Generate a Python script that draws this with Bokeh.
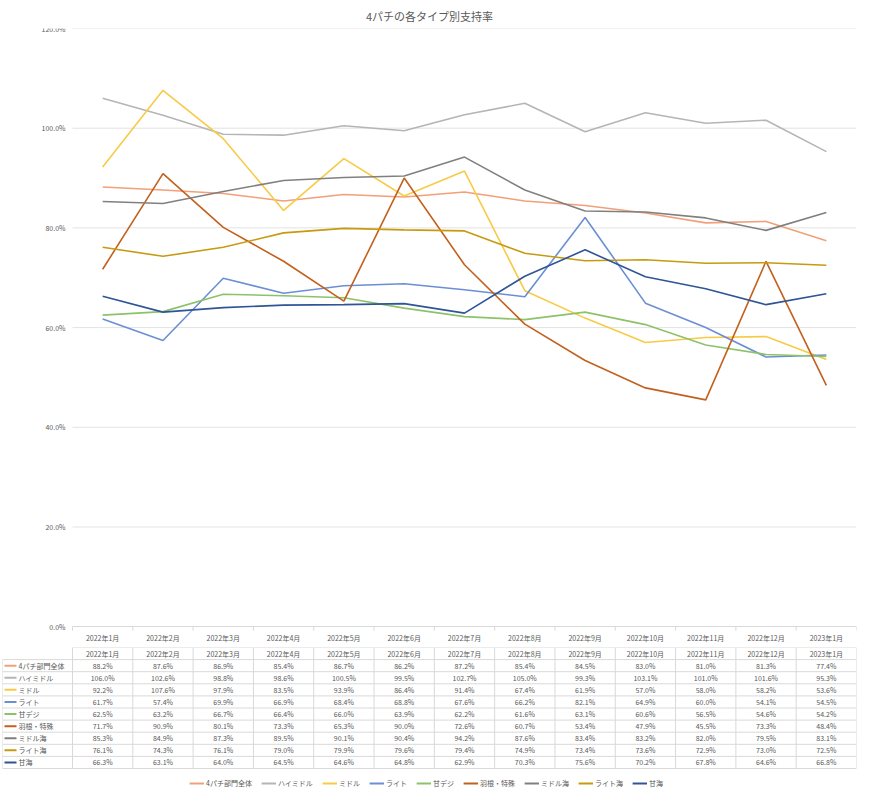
from bokeh.plotting import figure
from bokeh.models import (Range1d, FixedTicker, PrintfTickFormatter, LinearAxis,
                          ColumnDataSource, Legend, LegendItem)
from bokeh.layouts import column
from bokeh.core.properties import value
from bokeh.embed import file_html
from bokeh.resources import INLINE

months = ["2022年1月", "2022年2月", "2022年3月", "2022年4月", "2022年5月", "2022年6月",
          "2022年7月", "2022年8月", "2022年9月", "2022年10月", "2022年11月", "2022年12月",
          "2023年1月"]

names = ["4パチ部門全体", "ハイミドル", "ミドル", "ライト", "甘デジ", "羽根・特殊",
         "ミドル海", "ライト海", "甘海"]

all4 = [88.2, 87.6, 86.9, 85.4, 86.7, 86.2, 87.2, 85.4, 84.5, 83.0, 81.0, 81.3, 77.4]
highmid = [106.0, 102.6, 98.8, 98.6, 100.5, 99.5, 102.7, 105.0, 99.3, 103.1, 101.0, 101.6, 95.3]
middle = [92.2, 107.6, 97.9, 83.5, 93.9, 86.4, 91.4, 67.4, 61.9, 57.0, 58.0, 58.2, 53.6]
light = [61.7, 57.4, 69.9, 66.9, 68.4, 68.8, 67.6, 66.2, 82.1, 64.9, 60.0, 54.1, 54.5]
amadeji = [62.5, 63.2, 66.7, 66.4, 66.0, 63.9, 62.2, 61.6, 63.1, 60.6, 56.5, 54.6, 54.2]
hane = [71.7, 90.9, 80.1, 73.3, 65.3, 90.0, 72.6, 60.7, 53.4, 47.9, 45.5, 73.3, 48.4]
mid_umi = [85.3, 84.9, 87.3, 89.5, 90.1, 90.4, 94.2, 87.6, 83.4, 83.2, 82.0, 79.5, 83.1]
light_umi = [76.1, 74.3, 76.1, 79.0, 79.9, 79.6, 79.4, 74.9, 73.4, 73.6, 72.9, 73.0, 72.5]
ama_umi = [66.3, 63.1, 64.0, 64.5, 64.6, 64.8, 62.9, 70.3, 75.6, 70.2, 67.8, 64.6, 66.8]

series = [all4, highmid, middle, light, amadeji, hane, mid_umi, light_umi, ama_umi]
colors = ["#F2A079", "#B5B5B5", "#F7CB45", "#6B8FD4", "#8DC26A", "#C2601C",
          "#808080", "#C79A10", "#2F5597"]

yticks = [0, 20, 40, 60, 80, 100, 120]

FONT = "Noto Sans CJK JP"
TXT = "#595959"
GRID = "#E3E3E3"
BORDER = "#D9D9D9"

W = 858
TOP_H = 647
TAB_H = 141
BL = 2            # left border of both frames
BR = 2            # right border of both frames
LABEL_PX = 70     # width of the series-name column of the table
TOP_PAD = 23      # space for the title
BELOW_PX = 21     # space under the 0% line for the month labels

n = len(months)
idx = list(range(n))
unit_px = (W - BL - BR - LABEL_PX) / n
x_start = -0.5 - LABEL_PX / unit_px
x_end = n - 0.5

ymax = yticks[-1]
px_per_y = (TOP_H - TOP_PAD - BELOW_PX) / ymax
y_start = -BELOW_PX / px_per_y

# ---------------- chart ----------------
p = figure(width=W, height=TOP_H, x_range=Range1d(x_start, x_end), y_range=Range1d(y_start, ymax),
           output_backend="svg", toolbar_location=None, x_axis_type=None, y_axis_type=None,
           min_border_left=BL, min_border_right=BR, min_border_top=TOP_PAD, min_border_bottom=0)
p.title.text = "4パチの各タイプ別支持率"
p.title.align = "center"
p.title.text_font = FONT
p.title.text_font_size = "11px"
p.title.text_font_style = "normal"
p.title.text_color = TXT
p.title.standoff = 10
p.outline_line_color = None
p.grid.visible = False

# horizontal gridlines over the plot columns only
gy = yticks[1:]
p.segment(x0=[-0.5] * len(gy), y0=gy, x1=[x_end] * len(gy), y1=gy, line_color=GRID, line_width=1)
# small category-boundary ticks under the axis line
bx = [k - 0.5 for k in range(n + 1)]
p.segment(x0=bx, y0=[0] * len(bx), x1=bx, y1=[-4 / px_per_y] * len(bx), line_color=BORDER, line_width=1)

src = ColumnDataSource({"x": idx, **{f"s{i}": s for i, s in enumerate(series)}})
for i, c in enumerate(colors):
    p.line("x", f"s{i}", source=src, color=c, line_width=1.6)

yax = LinearAxis(ticker=FixedTicker(ticks=yticks), formatter=PrintfTickFormatter(format="%.1f%%"),
                 fixed_location=-0.5, axis_line_color=None, major_tick_line_color=None,
                 major_tick_in=0, major_tick_out=0,
                 minor_tick_line_color=None, major_label_text_font=FONT,
                 major_label_text_font_size="7px", major_label_text_color=TXT,
                 major_label_standoff=7)
p.add_layout(yax, "left")

xax = LinearAxis(ticker=FixedTicker(ticks=idx), major_label_overrides={i: m for i, m in enumerate(months)},
                 fixed_location=0, bounds=(-0.5, x_end), axis_line_color=BORDER,
                 major_tick_line_color=None, major_tick_in=0, major_tick_out=0,
                 minor_tick_line_color=None, major_label_text_font=FONT,
                 major_label_text_font_size="7px", major_label_text_color=TXT,
                 major_label_standoff=6)
p.add_layout(xax, "below")

# ---------------- data table ----------------
row_px = 12.1
y_bottom = TAB_H / row_px - 0.5

t = figure(width=W, height=TAB_H, x_range=Range1d(x_start, x_end), y_range=Range1d(y_bottom, -0.5),
           output_backend="svg", toolbar_location=None, x_axis_type=None, y_axis_type=None,
           min_border_left=BL, min_border_right=BR, min_border_top=0, min_border_bottom=0)
t.outline_line_color = None
t.grid.visible = False

nrows = len(names) + 1
hy = [r - 0.5 for r in range(nrows + 1)]
hx0 = [-0.5] + [x_start] * nrows
t.segment(x0=hx0, y0=hy, x1=[x_end] * len(hy), y1=hy, line_color=BORDER, line_width=1)
vx = [k - 0.5 for k in range(n + 1)]
t.segment(x0=vx, y0=[-0.5] * len(vx), x1=vx, y1=[nrows - 0.5] * len(vx), line_color=BORDER, line_width=1)
t.segment(x0=[x_start], y0=[0.5], x1=[x_start], y1=[nrows - 0.5], line_color=BORDER, line_width=1)

t.text(x=idx, y=[0] * n, text=months, text_align="center", text_baseline="middle",
       text_font=value(FONT), text_font_size="7px", text_color=TXT)

cx, cy, ct = [], [], []
for r, s in enumerate(series):
    for i, v in enumerate(s):
        cx.append(i)
        cy.append(r + 1)
        ct.append(f"{v:.1f}%")
t.text(x=cx, y=cy, text=ct, text_align="center", text_baseline="middle",
       text_font=value(FONT), text_font_size="7px", text_color=TXT)

t.text(x=[x_start] * len(names), y=[r + 1 for r in range(len(names))], text=names, x_offset=16,
       text_align="left", text_baseline="middle", text_font=value(FONT), text_font_size="7px",
       text_color=TXT)

items = []
k0 = x_start + 2 / unit_px
k1 = x_start + 14 / unit_px
for r, (nm, c) in enumerate(zip(names, colors)):
    rr = t.segment(x0=[k0], y0=[r + 1], x1=[k1], y1=[r + 1], line_color=c, line_width=2)
    items.append(LegendItem(label=nm, renderers=[rr]))

leg = Legend(items=items, orientation="horizontal", location="bottom_center",
             margin=0, padding=0, border_line_color=None, background_fill_alpha=0,
             glyph_width=15, glyph_height=8, label_height=8, label_standoff=2, spacing=9,
             label_text_font=FONT, label_text_font_size="7px", label_text_color=TXT)
t.add_layout(leg)

layout = column(p, t, spacing=0)
open("out.html", "w").write(file_html(layout, INLINE))
